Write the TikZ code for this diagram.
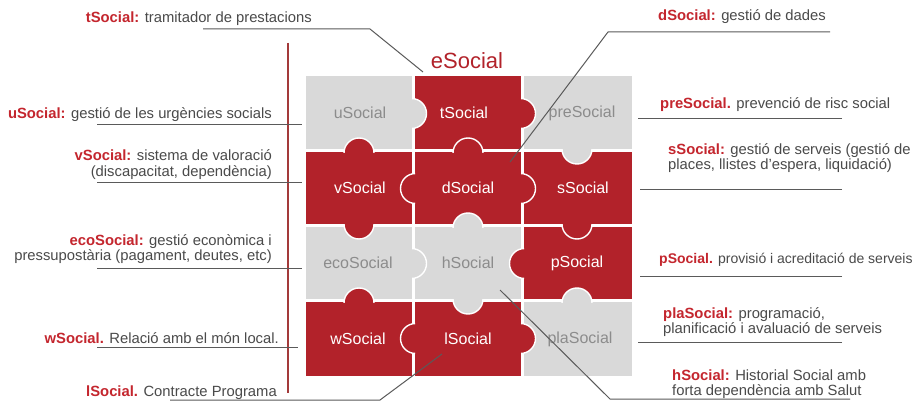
\documentclass[tikz,border=0pt]{standalone}
\usepackage{fontspec}
\setmainfont{Liberation Sans}
\usepackage{tikz}
\usetikzlibrary{positioning}

\definecolor{pzred}{HTML}{B2222A}
\definecolor{pzgray}{HTML}{D9D9D9}
\definecolor{pzlabel}{HTML}{8C8C8C}
\definecolor{headred}{HTML}{C4262E}
\definecolor{notetext}{HTML}{4A4A4A}
\definecolor{leadgray}{HTML}{5A5A5A}
\definecolor{axisred}{HTML}{A33A3A}

\newcommand{\notehead}[1]{{\bfseries\color{headred}#1}}
% knob of a piece: colour, point on the seam, direction
\newcommand{\pzknob}[4]{%
  \begin{scope}[shift={(#2,#3)},rotate=#4]
    \clip (-1.5,-20) rectangle (20,20);
    \filldraw[fill=#1,draw=white,line width=1.4pt] (-2,0) circle (15);
  \end{scope}}

\tikzset{
  piece/.style={font=\fontsize{16}{16}\selectfont},
  onred/.style={piece,text=white},
  ongray/.style={piece,text=pzlabel},
  note/.style={font=\fontsize{14.8}{15.5}\selectfont,text=notetext,inner sep=0pt},
  leftnote/.style={note,anchor=east,align=right},
  rightnote/.style={note,anchor=west,align=left},
  leader/.style={draw=leadgray,line width=1pt},
}

\begin{document}
\begin{tikzpicture}[x=1pt,y=-1pt]
\useasboundingbox[fill=white] (0,0) rectangle (921,403);

% cells
\fill[pzgray] (306,76) rectangle (412,149.5);
\fill[pzred] (415,76) rectangle (521,149.5);
\fill[pzgray] (524,76) rectangle (632,149.5);
\fill[pzred] (306,152.5) rectangle (412,224.5);
\fill[pzred] (415,152.5) rectangle (521,224.5);
\fill[pzred] (524,152.5) rectangle (632,224.5);
\fill[pzgray] (306,227.5) rectangle (412,299.5);
\fill[pzgray] (415,227.5) rectangle (521,299.5);
\fill[pzred] (524,227.5) rectangle (632,299.5);
\fill[pzred] (306,302.5) rectangle (412,376);
\fill[pzred] (415,302.5) rectangle (521,376);
\fill[pzgray] (524,302.5) rectangle (632,376);

% knobs
\pzknob{pzgray}{413.5}{113.5}{0}
\pzknob{pzred}{522.5}{113.5}{0}
\pzknob{pzred}{468}{151}{90}
\pzknob{pzred}{359}{151}{90}
\pzknob{pzgray}{577}{151}{-90}
\pzknob{pzred}{413.5}{188.5}{180}
\pzknob{pzred}{522.5}{188.5}{0}
\pzknob{pzgray}{468}{226}{90}
\pzknob{pzred}{359}{226}{-90}
\pzknob{pzred}{577}{226}{-90}
\pzknob{pzgray}{413.5}{263.5}{0}
\pzknob{pzred}{522.5}{263.5}{180}
\pzknob{pzred}{359}{301}{90}
\pzknob{pzgray}{468}{301}{-90}
\pzknob{pzgray}{577}{301}{90}
\pzknob{pzred}{413.5}{338.5}{180}
\pzknob{pzred}{522.5}{338.5}{0}

\node[text=pzred,font=\fontsize{22}{22}\selectfont] (e) at (467,61) {eSocial};
\node[ongray] (u) at (360,113) {uSocial};
\node[onred] (t) at (464,113) {tSocial};
\node[ongray] (pre) at (582,113) {preSocial};
\node[onred] (v) at (360,188) {vSocial};
\node[onred] (d) at (468,188) {dSocial};
\node[onred] (s) at (583,188) {sSocial};
\node[ongray] (eco) at (358,263) {ecoSocial};
\node[ongray] (h) at (468,263) {hSocial};
\node[onred] (p) at (577,263) {pSocial};
\node[onred] (w) at (358,339) {wSocial};
\node[onred] (l) at (468,339) {lSocial};
\node[ongray] (pla) at (580,339) {plaSocial};

\draw[axisred,line width=1.6pt] (288,43) -- (288,393);

% notes
\node[leftnote] (tNote) at (312,19) {\notehead{tSocial:} tramitador de prestacions};
\node[leftnote] (uNote) at (272,115) {\notehead{uSocial:} gestió de les urgències socials};
\node[leftnote] (vNote) at (272,164.5) {\notehead{vSocial:} sistema de valoració\\(discapacitat, dependència)};
\node[leftnote] (ecoNote) at (272,249) {\notehead{ecoSocial:} gestió econòmica i\\pressupostària (pagament, deutes, etc)};
\node[leftnote] (wNote) at (279,338) {\notehead{wSocial.} Relació amb el món local.};
\node[leftnote] (lNote) at (277,393) {\notehead{lSocial.} Contracte Programa};
\node[rightnote] (dNote) at (658,17) {\notehead{dSocial:} gestió de dades};
\node[rightnote] (preNote) at (660,105) {\notehead{preSocial.} prevenció de risc social};
\node[rightnote] (sNote) at (668,158) {\notehead{sSocial:} gestió de serveis (gestió de\\places, llistes d'espera, liquidació)};
\node[rightnote,font=\fontsize{14}{15.5}\selectfont] (pNote) at (659,260) {\notehead{pSocial.} provisió i acreditació de serveis};
\node[rightnote] (plaNote) at (663,322) {\notehead{plaSocial:} programació,\\planificació i avaluació de serveis};
\node[rightnote] (hNote) at (672,384) {\notehead{hSocial:} Historial Social amb\\forta dependència amb Salut};

% leader lines
\coordinate (tA) at (203,29); \coordinate (tB) at (370,29); \coordinate (tC) at (423,72);
\coordinate (dA) at (830,32); \coordinate (dB) at (608,32); \coordinate (dC) at (510,162);
\coordinate (lA) at (170,400); \coordinate (lB) at (380,400); \coordinate (lC) at (442,354);
\coordinate (hA) at (850,399); \coordinate (hB) at (610,399); \coordinate (hC) at (500,290);
\coordinate (uA) at (97,125); \coordinate (uB) at (302,125);
\coordinate (vA) at (97,183); \coordinate (vB) at (302,183);
\coordinate (ecoA) at (97,269); \coordinate (ecoB) at (302,269);
\coordinate (wA) at (97,347); \coordinate (wB) at (298,347);
\coordinate (preA) at (842,119); \coordinate (preB) at (638,119);
\coordinate (sA) at (842,190); \coordinate (sB) at (640,190);
\coordinate (pA) at (842,277); \coordinate (pB) at (640,277);
\coordinate (plaA) at (842,342); \coordinate (plaB) at (638,342);

\draw[leader] (tA) -- (tB) -- (tC);
\draw[leader] (dA) -- (dB) -- (dC);
\draw[leader] (lA) -- (lB) -- (lC);
\draw[leader] (hA) -- (hB) -- (hC);
\draw[leader] (uA) -- (uB);
\draw[leader] (vA) -- (vB);
\draw[leader] (ecoA) -- (ecoB);
\draw[leader] (wA) -- (wB);
\draw[leader] (preA) -- (preB);
\draw[leader] (sA) -- (sB);
\draw[leader] (pA) -- (pB);
\draw[leader] (plaA) -- (plaB);
\end{tikzpicture}
\end{document}
